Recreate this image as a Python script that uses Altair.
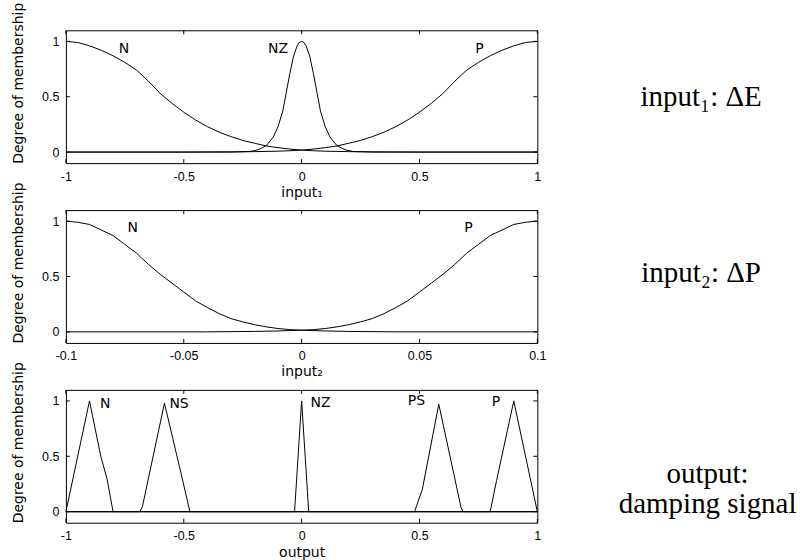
import altair as alt
import pandas as pd

# ---------------- data ----------------
Y_TICKS = [0, 0.5, 1]
Y_TITLE = "Degree of membership"

# Panel 1 : input1 (ΔE)
X1_TICKS = [-1, -0.5, 0, 0.5, 1]
N1_X = [-1.0, -0.95, -0.9, -0.85, -0.8, -0.75, -0.7, -0.65, -0.6, -0.55, -0.5, -0.45, -0.4,
        -0.35, -0.3, -0.25, -0.2, -0.15, -0.1, -0.05, 0.0, 0.05, 0.1, 0.2, 0.3, 0.5, 1.0]
N1_Y = [1.0, 0.99, 0.96, 0.92, 0.87, 0.81, 0.74, 0.64, 0.53, 0.44, 0.36, 0.29, 0.23,
        0.18, 0.14, 0.105, 0.08, 0.055, 0.04, 0.027, 0.018, 0.012, 0.008, 0.004, 0.002, 0.0, 0.0]
P1_X = [-1.0, -0.5, -0.3, -0.2, -0.1, -0.05, 0.0, 0.05, 0.1, 0.15, 0.2, 0.25, 0.3, 0.35,
        0.4, 0.45, 0.5, 0.55, 0.6, 0.65, 0.7, 0.75, 0.8, 0.85, 0.9, 0.95, 1.0]
P1_Y = [0.0, 0.0, 0.002, 0.004, 0.008, 0.012, 0.018, 0.027, 0.04, 0.055, 0.08, 0.105, 0.14, 0.18,
        0.23, 0.29, 0.36, 0.44, 0.53, 0.64, 0.74, 0.81, 0.87, 0.92, 0.96, 0.99, 1.0]
NZ1_X = [-1.0, -0.3, -0.22, -0.19, -0.17, -0.148, -0.12, -0.1, -0.08, -0.065, -0.05, -0.035, -0.02,
         -0.01, 0.0, 0.01, 0.02, 0.035, 0.05, 0.065, 0.08, 0.1, 0.12, 0.148, 0.17, 0.19, 0.22, 0.3, 1.0]
NZ1_Y = [0.0, 0.0, 0.005, 0.018, 0.035, 0.062, 0.137, 0.23, 0.37, 0.54, 0.71, 0.86, 0.955,
         0.99, 1.0, 0.99, 0.955, 0.86, 0.71, 0.54, 0.37, 0.23, 0.137, 0.062, 0.035, 0.018, 0.005, 0.0, 0.0]
LAB1_T = ["N", "NZ", "P"]
LAB1_X = [-0.754, -0.10, 0.754]
LAB1_Y = [0.93, 0.93, 0.93]

# Panel 2 : input2 (ΔP)
X2_TICKS = [-0.1, -0.05, 0, 0.05, 0.1]
N2_X = [-0.1, -0.095, -0.09, -0.085, -0.08, -0.075, -0.07, -0.065, -0.06, -0.055, -0.05, -0.045,
        -0.04, -0.035, -0.03, -0.025, -0.02, -0.015, -0.01, -0.005, 0.0, 0.01, 0.02, 0.04, 0.1]
N2_Y = [1.0, 0.99, 0.97, 0.92, 0.87, 0.79, 0.71, 0.61, 0.52, 0.44, 0.36, 0.28,
        0.22, 0.165, 0.12, 0.09, 0.065, 0.045, 0.03, 0.02, 0.015, 0.008, 0.004, 0.0, 0.0]
P2_X = [-0.1, -0.04, -0.02, -0.01, 0.0, 0.005, 0.01, 0.015, 0.02, 0.025, 0.03, 0.035, 0.04,
        0.045, 0.05, 0.055, 0.06, 0.065, 0.07, 0.075, 0.08, 0.085, 0.09, 0.095, 0.1]
P2_Y = [0.0, 0.0, 0.004, 0.008, 0.015, 0.02, 0.03, 0.045, 0.065, 0.09, 0.12, 0.165, 0.22,
        0.28, 0.36, 0.44, 0.52, 0.61, 0.71, 0.79, 0.87, 0.92, 0.97, 0.99, 1.0]
LAB2_T = ["N", "P"]
LAB2_X = [-0.0717, 0.0708]
LAB2_Y = [0.94, 0.94]

# Panel 3 : output (damping signal)
X3_TICKS = [-1, -0.5, 0, 0.5, 1]
ON_X = [-1.0, -0.9, -0.852, -0.826, -0.8, 1.0]
ON_Y = [0.0, 1.0, 0.5, 0.3, 0.0, 0.0]
ONS_X = [-1.0, -0.686, -0.675, -0.582, -0.511, -0.474, 1.0]
ONS_Y = [0.0, 0.0, 0.05, 0.98, 0.34, 0.0, 0.0]
ONZ_X = [-1.0, -0.03, 0.0, 0.03, 1.0]
ONZ_Y = [0.0, 0.0, 1.0, 0.0, 0.0]
OPS_X = [-1.0, 0.479, 0.512, 0.582, 0.676, 0.684, 1.0]
OPS_Y = [0.0, 0.0, 0.2, 0.97, 0.04, 0.0, 0.0]
OP_X = [-1.0, 0.8, 0.827, 0.9, 1.0]
OP_Y = [0.0, 0.0, 0.28, 1.0, 0.0]
LAB3_T = ["N", "NS", "NZ", "PS", "P"]
LAB3_X = [-0.833, -0.52, 0.08, 0.487, 0.825]
LAB3_Y = [0.97, 0.97, 0.98, 1.0, 0.99]

SIDE1 = ["input\u2081: \u0394E"]
SIDE2 = ["input\u2082: \u0394P"]
SIDE3 = ["output:", "damping signal"]

# ---------------- layout ----------------
W, H = 472, 133
LEFT, TOP = 65.5, 29
GAP = 47
CANVAS_W, CANVAS_H = 810, 560


def sdf(name, xs, ys):
    return pd.DataFrame({"x": xs, "y": ys, "s": name, "i": list(range(len(xs)))})


def make_panel(curves, labs, xdom, xticks, xtitle, title_y, side, anchor_top=None, anchor_bottom=None):
    df = pd.concat(curves, ignore_index=True)
    xs = alt.Scale(domain=xdom, nice=False, zero=False)
    ys = alt.Scale(domain=[-0.1, 1.1], nice=False, zero=False)
    xaxis = alt.Axis(values=xticks, title=xtitle, labelExpr="datum.value + ''",
                     labelFlush=False, labelOverlap=False, labelPadding=17,
                     labelBaseline="alphabetic", titleX=W / 2, titleY=title_y,
                     titleBaseline="alphabetic", titleAlign="center")
    yaxis = alt.Axis(values=Y_TICKS, title=Y_TITLE, labelExpr="datum.value + ''",
                     labelPadding=7, labelOverlap=False, labelFlush=False,
                     titleX=-47, titleY=H / 2 - 14, titleBaseline="middle", titleAlign="center")

    def X(f):
        return alt.X(f, scale=xs, axis=xaxis)

    def Y(f):
        return alt.Y(f, scale=ys, axis=yaxis)

    lines = alt.Chart(df).mark_line(color="black", strokeWidth=1).encode(
        x=X("x:Q"), y=Y("y:Q"), detail="s:N", order="i:Q")
    lab = alt.Chart(pd.DataFrame({"x": labs[0], "y": labs[1], "t": labs[2]})).mark_text(
        font="DejaVu Sans", fontSize=14, color="black", baseline="middle", align="center").encode(
        x=X("x:Q"), y=Y("y:Q"), text="t:N")
    xt = pd.DataFrame({"v": xticks})
    yt = pd.DataFrame({"v": Y_TICKS})
    rule = dict(color="black", strokeWidth=1)
    t1 = alt.Chart(xt).mark_rule(**rule).encode(x=X("v:Q"), y=alt.value(0), y2=alt.value(4))
    t2 = alt.Chart(xt).mark_rule(**rule).encode(x=X("v:Q"), y=alt.value(H - 4), y2=alt.value(H))
    t3 = alt.Chart(yt).mark_rule(**rule).encode(y=Y("v:Q"), x=alt.value(0), x2=alt.value(4))
    t4 = alt.Chart(yt).mark_rule(**rule).encode(y=Y("v:Q"), x=alt.value(W - 4), x2=alt.value(W))
    layers = [lines, lab, t1, t2, t3, t4]
    for (txt, px, py) in side:
        layers.append(alt.Chart(pd.DataFrame({"t": [txt]})).mark_text(
            font="Liberation Serif", fontSize=29, color="black", align="center",
            baseline="alphabetic").encode(x=alt.value(px), y=alt.value(py), text="t:N"))
    dummy = pd.DataFrame({"a": [0]})
    if anchor_top is not None:
        layers.append(alt.Chart(dummy).mark_rule(strokeOpacity=0, strokeWidth=0).encode(
            x=alt.value(-LEFT), x2=alt.value(CANVAS_W - LEFT), y=alt.value(anchor_top), y2=alt.value(anchor_top)))
    if anchor_bottom is not None:
        layers.append(alt.Chart(dummy).mark_rule(strokeOpacity=0, strokeWidth=0).encode(
            x=alt.value(-LEFT), x2=alt.value(CANVAS_W - LEFT), y=alt.value(anchor_bottom), y2=alt.value(anchor_bottom)))
    return alt.layer(*layers).properties(width=W, height=H)


p1 = make_panel(
    [sdf("N", N1_X, N1_Y), sdf("NZ", NZ1_X, NZ1_Y), sdf("P", P1_X, P1_Y)],
    (LAB1_X, LAB1_Y, LAB1_T), [-1, 1], X1_TICKS, "input\u2081", 33,
    [(SIDE1[0], 636, 76)], anchor_top=-TOP)
p2 = make_panel(
    [sdf("N", N2_X, N2_Y), sdf("P", P2_X, P2_Y)],
    (LAB2_X, LAB2_Y, LAB2_T), [-0.1, 0.1], X2_TICKS, "input\u2082", 33,
    [(SIDE2[0], 636, 72)])
p3 = make_panel(
    [sdf("N", ON_X, ON_Y), sdf("NS", ONS_X, ONS_Y), sdf("NZ", ONZ_X, ONZ_Y),
     sdf("PS", OPS_X, OPS_Y), sdf("P", OP_X, OP_Y)],
    (LAB3_X, LAB3_Y, LAB3_T), [-1, 1], X3_TICKS, "output", 34,
    [(SIDE3[0], 642.5, 93), (SIDE3[1], 642.5, 123)],
    anchor_bottom=CANVAS_H - (TOP + 2 * (H + GAP)))

chart = alt.vconcat(p1, p2, p3, spacing=GAP, bounds="flush").properties(
    padding=0
).configure_view(stroke="black", strokeWidth=1).configure_axis(
    domain=False, ticks=False, grid=False,
    labelFont="Liberation Sans", labelFontSize=12.5, labelColor="black",
    titleFont="DejaVu Sans", titleFontSize=14, titleFontWeight="normal", titleColor="black")

chart.save("out.html", embed_options={"renderer": "svg", "actions": False})
